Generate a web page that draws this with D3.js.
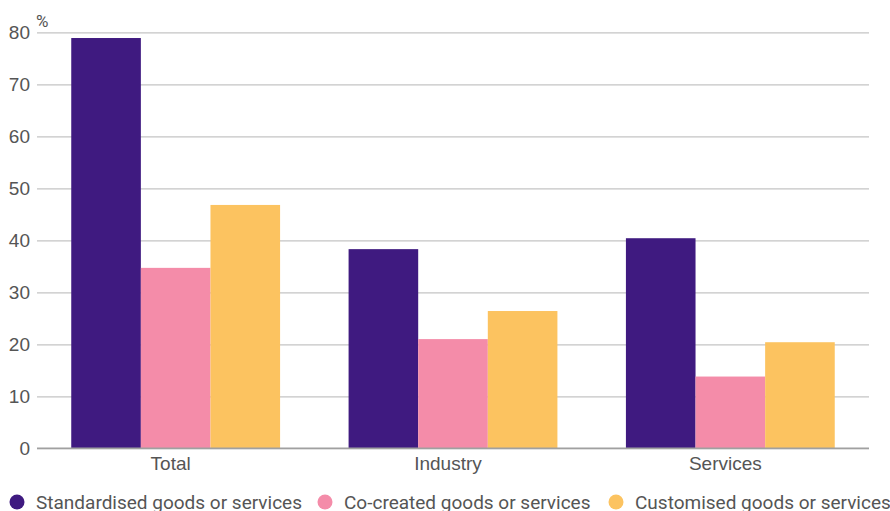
<!DOCTYPE html>
<html>
<head>
<meta charset="utf-8">
<script src="https://cdn.jsdelivr.net/npm/d3@7"></script>
<style>
  html, body { margin: 0; padding: 0; background: #fff; }
  svg { display: block; font-family: Roboto, "Noto Sans", sans-serif; }
</style>
</head>
<body>
<svg id="chart" width="890" height="511"></svg>
<script>
const categories = ["Total", "Industry", "Services"];
const seriesNames = ["Standardised goods or services", "Co-created goods or services", "Customised goods or services"];
const standardised = [78.9, 38.3, 40.4];
const coCreated = [34.7, 21.0, 13.8];
const customised = [46.8, 26.4, 20.4];
const yTicks = [0, 10, 20, 30, 40, 50, 60, 70, 80];
const colors = ["#3f1a80", "#f48ca9", "#fcc360"];

const seriesValues = [standardised, coCreated, customised];

const svg = d3.select("#chart");
const plotLeft = 37, plotRight = 869, plotTop = 32.3, plotBottom = 448.3;

const x0 = d3.scaleBand().domain(categories).range([plotLeft, plotRight])
  .paddingInner(0.247).paddingOuter(0.1235);
const x1 = d3.scaleBand().domain(d3.range(seriesNames.length)).range([0, x0.bandwidth()]);
const y = d3.scaleLinear().domain([0, 80]).range([plotBottom, plotTop]);

// horizontal gridlines with tick labels
const yAxis = d3.axisLeft(y).tickValues(yTicks).tickSize(-(plotRight - plotLeft)).tickPadding(7);
const gy = svg.append("g").attr("transform", `translate(${plotLeft},0)`).call(yAxis);
gy.select(".domain").remove();
gy.selectAll(".tick line").attr("stroke", "#c4c4c4").attr("stroke-width", 1.3);
gy.selectAll(".tick text").attr("fill", "#555").style("font-size", "19px")
  .attr("x", -7);

// unit label
svg.append("text").attr("x", 36).attr("y", 27).attr("fill", "#555")
  .style("font-size", "17px").text("%");

// bars
const groups = svg.append("g").selectAll("g").data(categories).join("g")
  .attr("transform", d => `translate(${x0(d)},0)`);
groups.selectAll("rect")
  .data((c, ci) => seriesValues.map((vals, si) => ({ si, v: vals[ci] })))
  .join("rect")
  .attr("x", d => x1(d.si))
  .attr("width", x1.bandwidth())
  .attr("y", d => y(d.v))
  .attr("height", d => y(0) - y(d.v))
  .attr("fill", d => colors[d.si]);

// baseline
svg.append("line").attr("x1", plotLeft).attr("x2", plotRight)
  .attr("y1", y(0)).attr("y2", y(0)).attr("stroke", "#a0a0a0").attr("stroke-width", 1.5);

// category labels, set slightly left of group centre
const xAxis = d3.axisBottom(x0).tickSize(0).tickPadding(8);
const gx = svg.append("g").attr("transform", `translate(-5,${plotBottom})`).call(xAxis);
gx.select(".domain").remove();
gx.selectAll(".tick text").attr("fill", "#555").style("font-size", "19px");

// legend
const legendX = [17, 325, 616];
const legend = svg.append("g").selectAll("g").data(seriesNames).join("g")
  .attr("transform", (d, i) => `translate(${legendX[i]},502)`);
legend.append("circle").attr("r", 7.5).attr("fill", (d, i) => colors[i]);
legend.append("text").attr("x", 19).attr("dy", "0.36em").attr("fill", "#555")
  .style("font-size", "19px").text(d => d);
</script>
</body>
</html>
